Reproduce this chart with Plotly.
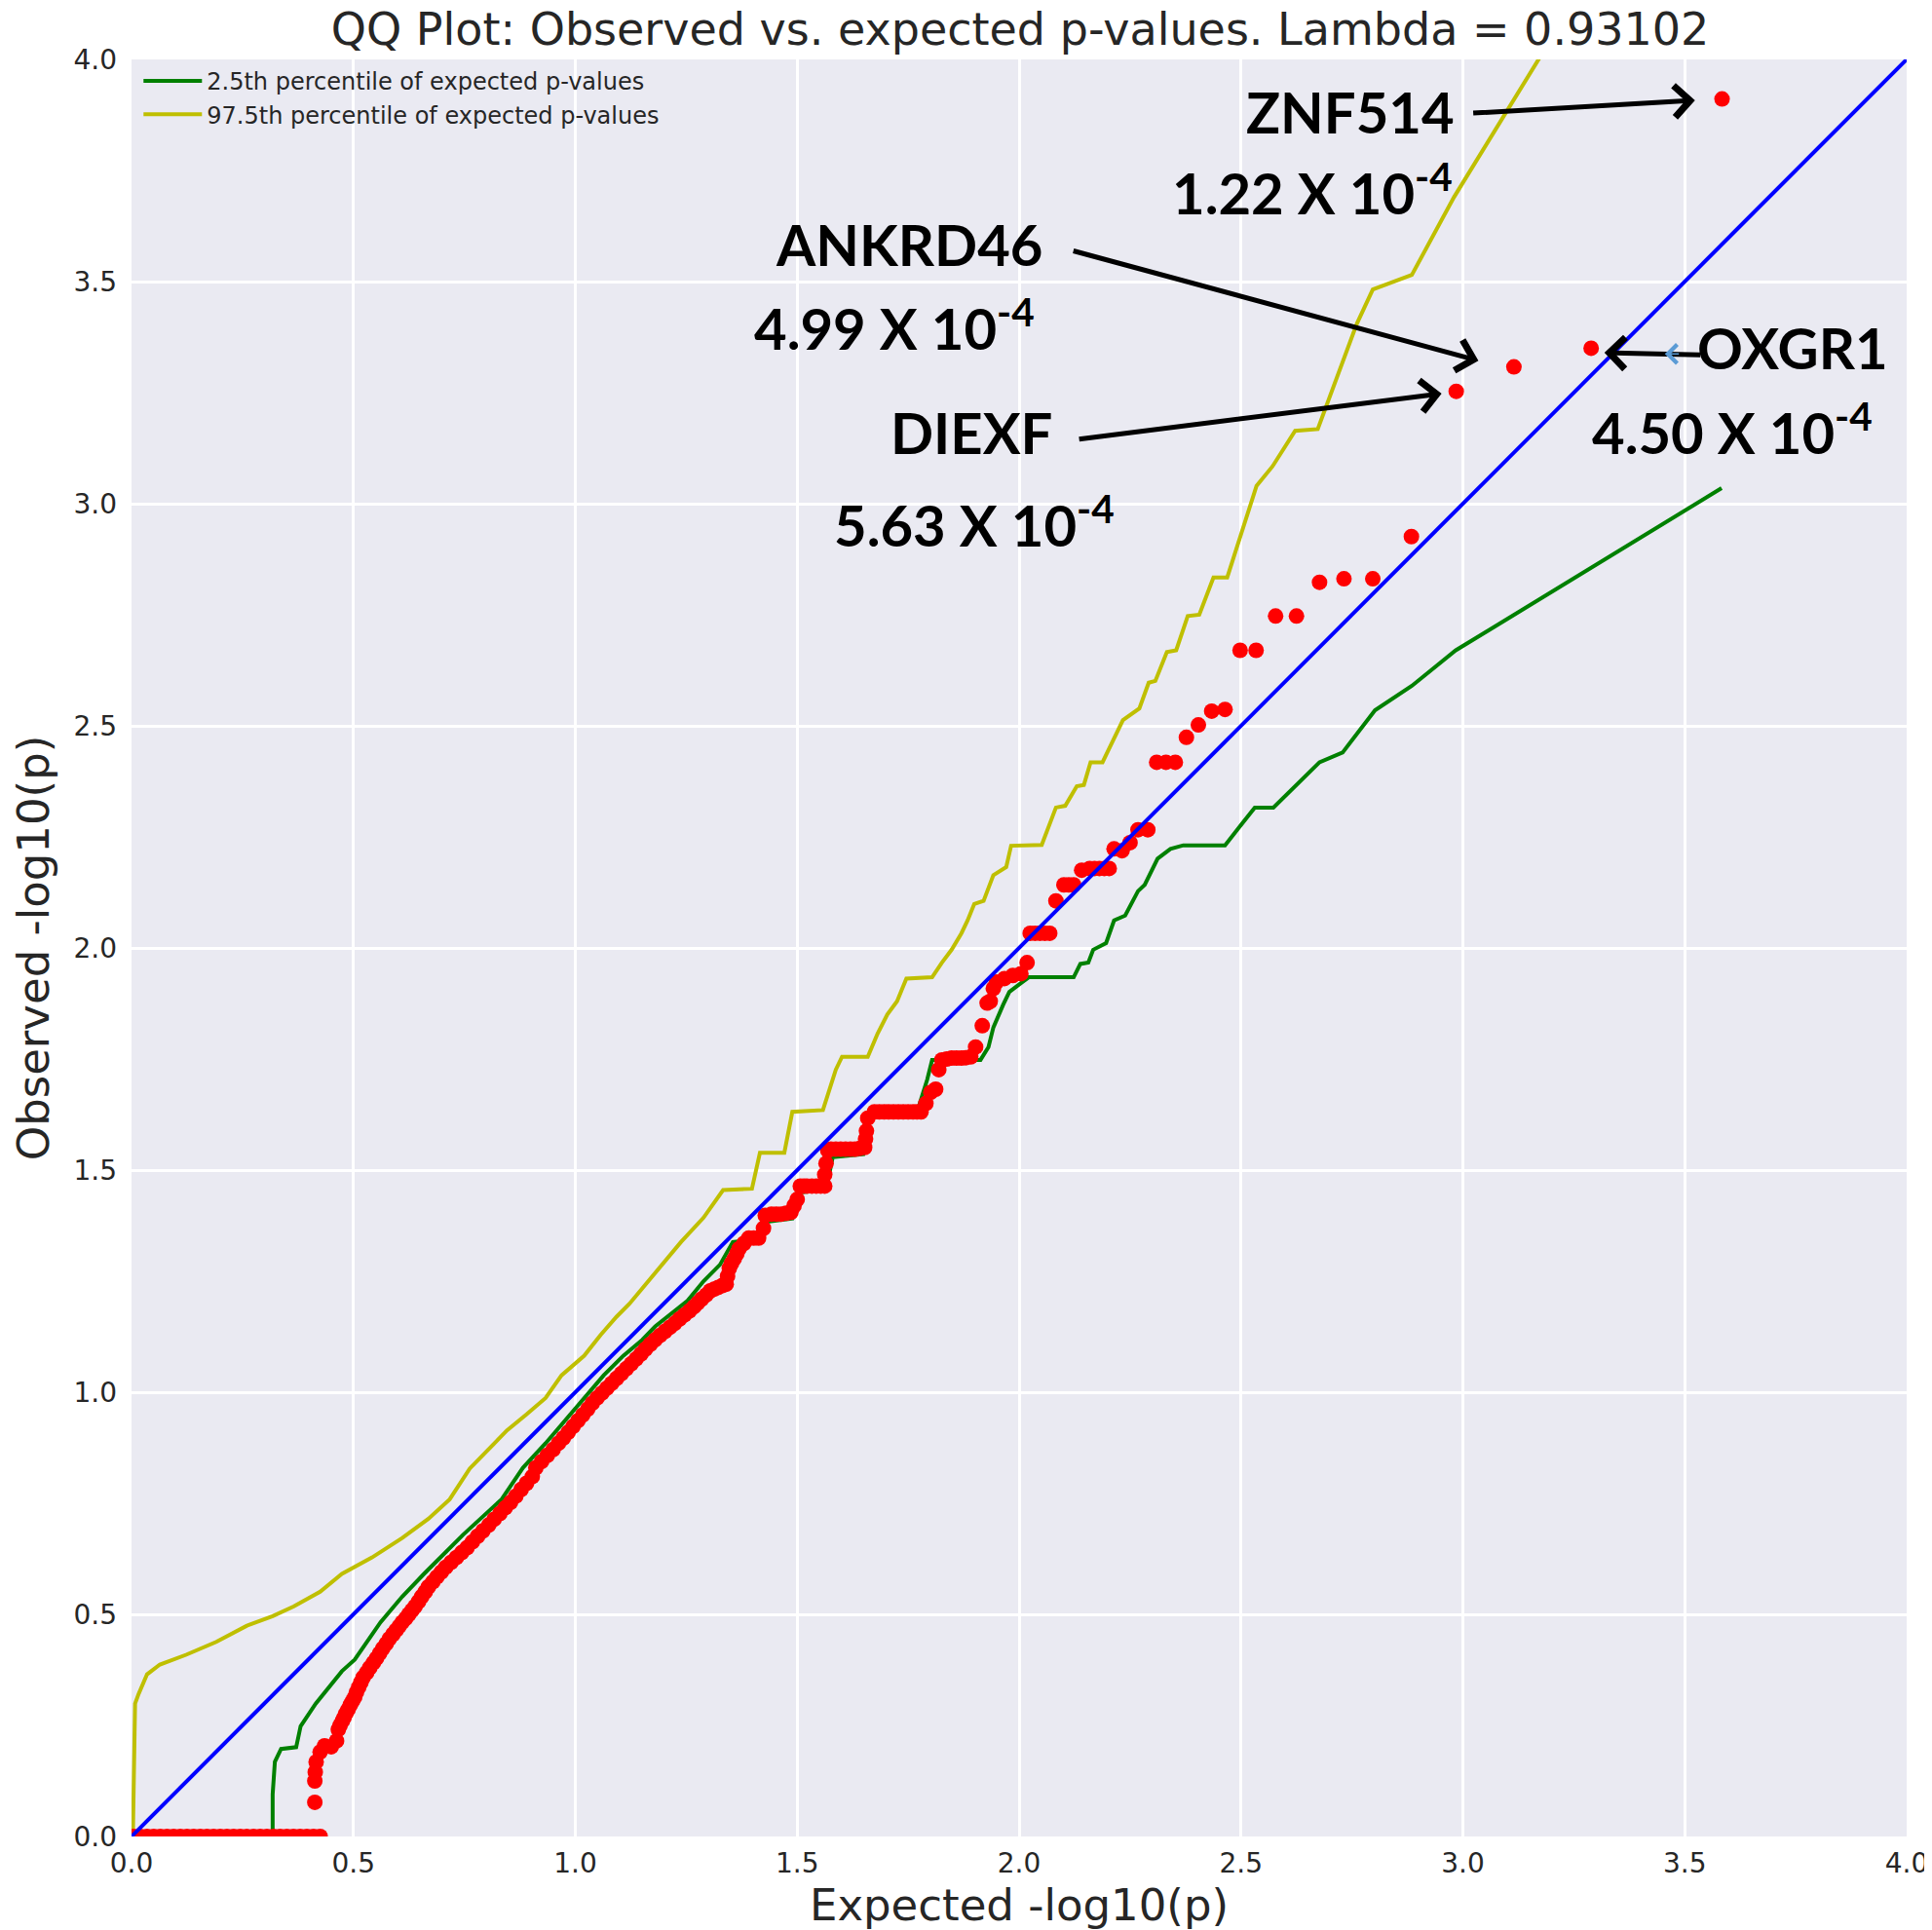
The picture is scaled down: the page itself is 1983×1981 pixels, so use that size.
import plotly.graph_objects as go

# ---------------- data ----------------
obs_x = [0.005, 0.020, 0.035, 0.050, 0.065, 0.080, 0.095, 0.110, 0.125, 0.140, 0.155, 0.170, 0.185,
         0.200, 0.215, 0.230, 0.245, 0.260, 0.275, 0.290, 0.305, 0.320, 0.335, 0.350, 0.365, 0.380,
         0.395, 0.410, 0.425,
         0.413, 0.413, 0.414, 0.416, 0.425, 0.435, 0.450, 0.462, 0.466, 0.470, 0.475, 0.479, 0.483,
         0.488, 0.493, 0.498, 0.503, 0.507, 0.512, 0.517, 0.522, 0.530, 0.537, 0.545, 0.552, 0.559,
         0.566, 0.574, 0.581, 0.589, 0.596, 0.603, 0.610, 0.618, 0.625, 0.632, 0.639, 0.647, 0.654,
         0.662, 0.669, 0.679, 0.688, 0.698, 0.708, 0.720, 0.732, 0.744, 0.756, 0.768, 0.780, 0.792,
         0.805, 0.817, 0.830, 0.842, 0.854, 0.866, 0.878, 0.890, 0.903, 0.911, 0.924, 0.937, 0.950,
         0.962, 0.973, 0.984, 0.995, 1.006, 1.017, 1.028, 1.038, 1.049, 1.060, 1.071, 1.082, 1.093,
         1.104, 1.115, 1.126, 1.137, 1.148, 1.158, 1.169, 1.180, 1.191, 1.202, 1.213, 1.224, 1.235,
         1.246, 1.257, 1.267, 1.276, 1.285, 1.295, 1.304, 1.313, 1.322, 1.331, 1.340, 1.343, 1.347,
         1.352, 1.358, 1.364, 1.369, 1.380, 1.391, 1.402, 1.413, 1.424, 1.428, 1.442, 1.453, 1.464,
         1.475, 1.486, 1.493, 1.500, 1.507, 1.515, 1.522, 1.533, 1.543, 1.553, 1.562, 1.562, 1.565,
         1.569, 1.576, 1.587, 1.598, 1.609, 1.620, 1.630, 1.641, 1.652, 1.654, 1.656, 1.659, 1.674,
         1.685, 1.696, 1.706, 1.717, 1.728, 1.739, 1.750, 1.761, 1.770, 1.779, 1.790, 1.801, 1.812,
         1.819, 1.826, 1.837, 1.848, 1.859, 1.870, 1.880, 1.891, 1.902, 1.917, 1.928, 1.935, 1.942,
         1.949, 1.967, 1.986, 2.004, 2.018, 2.025, 2.036, 2.047, 2.058, 2.069, 2.083, 2.101, 2.112,
         2.123, 2.141, 2.159, 2.170, 2.181, 2.192, 2.203, 2.214, 2.232, 2.250, 2.268, 2.290, 2.310,
         2.331, 2.352, 2.377, 2.404, 2.434, 2.464, 2.498, 2.534, 2.578, 2.625, 2.677, 2.732, 2.797,
         2.884, 2.985, 3.115, 3.289, 3.584]
obs_y = [0.0, 0.0, 0.0, 0.0, 0.0, 0.0, 0.0, 0.0, 0.0, 0.0, 0.0, 0.0, 0.0,
         0.0, 0.0, 0.0, 0.0, 0.0, 0.0, 0.0, 0.0, 0.0, 0.0, 0.0, 0.0, 0.0,
         0.0, 0.0, 0.0,
         0.077, 0.125, 0.145, 0.168, 0.190, 0.204, 0.202, 0.215, 0.241, 0.250, 0.260, 0.268, 0.277,
         0.286, 0.296, 0.305, 0.314, 0.325, 0.336, 0.347, 0.358, 0.369, 0.380, 0.391, 0.401, 0.412,
         0.423, 0.434, 0.445, 0.455, 0.464, 0.473, 0.482, 0.491, 0.500, 0.509, 0.518, 0.529, 0.540,
         0.551, 0.562, 0.573, 0.584, 0.595, 0.606, 0.617, 0.628, 0.639, 0.650, 0.663, 0.676, 0.688,
         0.701, 0.714, 0.727, 0.740, 0.752, 0.766, 0.781, 0.795, 0.810, 0.830, 0.844, 0.858, 0.871,
         0.885, 0.897, 0.910, 0.923, 0.936, 0.949, 0.962, 0.975, 0.987, 0.998, 1.009, 1.020, 1.031,
         1.042, 1.053, 1.064, 1.075, 1.086, 1.097, 1.108, 1.118, 1.128, 1.137, 1.146, 1.155, 1.165,
         1.174, 1.183, 1.192, 1.201, 1.210, 1.219, 1.228, 1.232, 1.236, 1.240, 1.243, 1.261, 1.279,
         1.290, 1.300, 1.312, 1.323, 1.335, 1.347, 1.347, 1.347, 1.369, 1.398, 1.401, 1.401, 1.401,
         1.403, 1.405, 1.420, 1.434, 1.464, 1.464, 1.464, 1.464, 1.464, 1.464, 1.464, 1.490, 1.515,
         1.544, 1.547, 1.547, 1.547, 1.547, 1.547, 1.547, 1.549, 1.551, 1.570, 1.588, 1.617, 1.631,
         1.631, 1.631, 1.631, 1.631, 1.631, 1.631, 1.631, 1.631, 1.631, 1.631, 1.650, 1.675, 1.682,
         1.726, 1.748, 1.750, 1.752, 1.752, 1.752, 1.753, 1.755, 1.777, 1.825, 1.876, 1.880, 1.909,
         1.923, 1.931, 1.938, 1.942, 1.967, 2.033, 2.033, 2.033, 2.033, 2.033, 2.106, 2.142, 2.142,
         2.142, 2.175, 2.179, 2.179, 2.179, 2.179, 2.179, 2.223, 2.219, 2.237, 2.266, 2.266, 2.418,
         2.418, 2.418, 2.474, 2.502, 2.533, 2.537, 2.670, 2.670, 2.747, 2.747, 2.823, 2.831, 2.831,
         2.926, 3.253, 3.308, 3.350, 3.911]

low_x = [0.0, 0.318, 0.318, 0.323, 0.337, 0.371, 0.381, 0.415, 0.474, 0.503, 0.561, 0.610, 0.659,
         0.747, 0.834, 0.882, 0.933, 0.977, 1.020, 1.064, 1.108, 1.151, 1.180, 1.217, 1.253, 1.289,
         1.326, 1.355, 1.413, 1.428, 1.489, 1.500, 1.565, 1.580, 1.649, 1.659, 1.674, 1.768, 1.793,
         1.804, 1.913, 1.931, 1.942, 1.964, 1.978, 2.007, 2.022, 2.123, 2.138, 2.156, 2.167, 2.196,
         2.214, 2.239, 2.268, 2.283, 2.312, 2.341, 2.370, 2.464, 2.531, 2.573, 2.677, 2.729, 2.802,
         2.885, 2.984, 3.583]
low_y = [0.0, 0.0, 0.095, 0.168, 0.197, 0.201, 0.248, 0.299, 0.372, 0.398, 0.482, 0.540, 0.591,
         0.679, 0.759, 0.830, 0.885, 0.936, 0.987, 1.038, 1.082, 1.118, 1.148, 1.177, 1.206, 1.250,
         1.287, 1.338, 1.345, 1.383, 1.391, 1.449, 1.456, 1.529, 1.536, 1.602, 1.624, 1.624, 1.704,
         1.748, 1.748, 1.777, 1.821, 1.872, 1.901, 1.923, 1.934, 1.934, 1.964, 1.967, 1.996, 2.011,
         2.062, 2.073, 2.128, 2.142, 2.201, 2.223, 2.231, 2.231, 2.316, 2.316, 2.418, 2.440, 2.535,
         2.590, 2.670, 3.035]

high_x = [0.003, 0.005, 0.008, 0.016, 0.035, 0.064, 0.123, 0.191, 0.259, 0.318, 0.366, 0.425, 0.474,
          0.542, 0.610, 0.669, 0.717, 0.762, 0.802, 0.846, 0.890, 0.933, 0.969, 1.020, 1.057, 1.093,
          1.122, 1.158, 1.195, 1.238, 1.289, 1.333, 1.398, 1.416, 1.471, 1.489, 1.558, 1.569, 1.587,
          1.601, 1.659, 1.681, 1.703, 1.725, 1.746, 1.804, 1.826, 1.848, 1.870, 1.884, 1.899, 1.920,
          1.942, 1.971, 1.982, 2.051, 2.083, 2.104, 2.130, 2.146, 2.161, 2.188, 2.234, 2.271, 2.292,
          2.307, 2.333, 2.354, 2.380, 2.406, 2.438, 2.469, 2.500, 2.535, 2.571, 2.622, 2.673, 2.761,
          2.797, 2.885, 2.980, 3.173]
high_y = [0.0, 0.200, 0.299, 0.321, 0.365, 0.387, 0.409, 0.438, 0.474, 0.496, 0.518, 0.551, 0.591,
          0.628, 0.672, 0.715, 0.759, 0.828, 0.870, 0.914, 0.950, 0.987, 1.038, 1.082, 1.129, 1.170,
          1.199, 1.243, 1.287, 1.338, 1.393, 1.455, 1.458, 1.539, 1.539, 1.631, 1.635, 1.668, 1.726,
          1.755, 1.755, 1.807, 1.850, 1.880, 1.931, 1.934, 1.967, 1.996, 2.033, 2.062, 2.099, 2.106,
          2.164, 2.182, 2.230, 2.232, 2.316, 2.320, 2.364, 2.367, 2.418, 2.418, 2.513, 2.539, 2.597,
          2.601, 2.666, 2.670, 2.747, 2.750, 2.834, 2.834, 2.933, 3.040, 3.084, 3.164, 3.168, 3.405,
          3.482, 3.515, 3.690, 4.004]

diag = [0.0, 4.0]

tick_vals = [0.0, 0.5, 1.0, 1.5, 2.0, 2.5, 3.0, 3.5, 4.0]
tick_text = ["0.0", "0.5", "1.0", "1.5", "2.0", "2.5", "3.0", "3.5", "4.0"]

# gene labels: name, p-value text, label centres, arrow tail and tip (data units)
genes = ["ZNF514", "ANKRD46", "DIEXF", "OXGR1"]
pvals = ["1.22 X 10<sup>-4</sup>", "4.99 X 10<sup>-4</sup>", "5.63 X 10<sup>-4</sup>", "4.50 X 10<sup>-4</sup>"]
name_pos = [(2.747, 3.883), (1.752, 3.584), (1.893, 3.162), (3.744, 3.353)]
pval_pos = [(2.661, 3.709), (1.719, 3.403), (1.898, 2.960), (3.606, 3.168)]
arrow_tail = [(3.020, 3.879), (2.119, 3.570), (2.132, 3.145), (3.538, 3.335)]
arrow_tip = [(3.523, 3.908), (3.035, 3.322), (2.952, 3.248), (3.319, 3.340)]

title_text = "QQ Plot: Observed vs. expected p-values. Lambda = 0.93102"

# ---------------- figure ----------------
fig = go.Figure()

fig.add_trace(go.Scatter(x=low_x, y=low_y, mode="lines", line=dict(color="#008000", width=4),
                         name="2.5th percentile of expected p-values"))
fig.add_trace(go.Scatter(x=high_x, y=high_y, mode="lines", line=dict(color="#bfbf00", width=4),
                         name="97.5th percentile of expected p-values"))
fig.add_trace(go.Scatter(x=obs_x, y=obs_y, mode="markers",
                         marker=dict(color="#ff0000", size=16, line=dict(width=0)),
                         showlegend=False))
fig.add_trace(go.Scatter(x=diag, y=diag, mode="lines", line=dict(color="#0000ff", width=4),
                         showlegend=False))

ann_font = dict(family="Lato, Open Sans, sans-serif", size=58, color="#000000", weight="bold")
annotations = []
for g, pv, npos, ppos, tail, tip in zip(genes, pvals, name_pos, pval_pos, arrow_tail, arrow_tip):
    annotations.append(dict(x=npos[0], y=npos[1], xref="x", yref="y", text=g, showarrow=False,
                            font=ann_font, xanchor="center", yanchor="middle"))
    annotations.append(dict(x=ppos[0], y=ppos[1], xref="x", yref="y", text=pv, showarrow=False,
                            font=ann_font, xanchor="center", yanchor="middle"))
    annotations.append(dict(x=tip[0], y=tip[1], ax=tail[0], ay=tail[1], xref="x", yref="y",
                            axref="x", ayref="y", text="", showarrow=True, arrowhead=4,
                            arrowsize=1.25, arrowwidth=5, arrowcolor="#000000", standoff=0))
# faint leftover arrowhead next to OXGR1
annotations.append(dict(x=3.455, y=3.337, ax=3.49, ay=3.337, xref="x", yref="y", axref="x", ayref="y",
                        text="", showarrow=True, arrowhead=4, arrowsize=2.5, arrowwidth=1.5,
                        arrowcolor="#5b9bd5", standoff=0))

axis_common = dict(range=[0, 4], tickvals=tick_vals, ticktext=tick_text, showgrid=True,
                   gridcolor="#ffffff", gridwidth=2.5, zeroline=False, showline=False, ticks="",
                   tickfont=dict(family="DejaVu Sans", size=28, color="#262626"))

fig.update_layout(
    width=1983, height=1981,
    paper_bgcolor="#ffffff", plot_bgcolor="#eaeaf2",
    margin=dict(l=123, r=26, t=53, b=104),
    title=dict(text=title_text, x=0.524, xanchor="center", y=0.997, yanchor="top",
               pad=dict(t=0, b=0),
               font=dict(family="DejaVu Sans", size=46, color="#262626")),
    xaxis=dict(axis_common, ticklabelstandoff=8,
               title=dict(text="Expected -log10(p)", standoff=8,
                          font=dict(family="DejaVu Sans", size=45, color="#262626"))),
    yaxis=dict(axis_common, ticklabelstandoff=14,
               title=dict(text="Observed -log10(p)", standoff=24,
                          font=dict(family="DejaVu Sans", size=45, color="#262626"))),
    legend=dict(x=0.004, y=1.0, xanchor="left", yanchor="top", bgcolor="rgba(0,0,0,0)",
                font=dict(family="DejaVu Sans", size=24, color="#262626"), tracegroupgap=0,
                itemwidth=60),
    annotations=annotations,
    showlegend=True,
)

fig.write_html("out.html")
